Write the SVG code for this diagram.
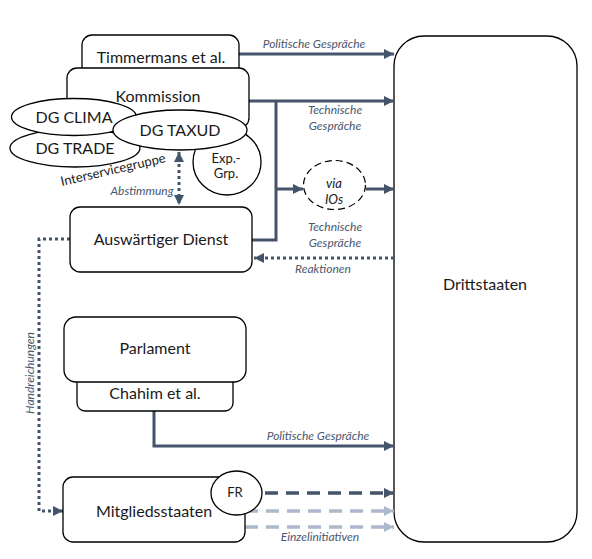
<svg xmlns="http://www.w3.org/2000/svg" width="592" height="559" viewBox="0 0 592 559">
<defs>
<style>
.box{fill:#fff;stroke:#000;stroke-width:1.3}
.t{font-family:Lato,Roboto,"Noto Sans",sans-serif;font-size:16px;fill:#1a1a1a;text-anchor:middle}
.s{font-family:Lato,Roboto,"Noto Sans",sans-serif;font-size:13px;fill:#1a1a1a;text-anchor:middle}
.lab{font-family:Lato,Roboto,"Noto Sans",sans-serif;font-size:12px;font-style:italic;fill:#4a5870;text-anchor:middle}
.c{fill:none;stroke:#44546a;stroke-width:3}
.dot{fill:none;stroke:#44546a;stroke-width:3;stroke-dasharray:3 3}
.dash{fill:none;stroke:#44546a;stroke-width:3.5;stroke-dasharray:13 8}
.ldash{fill:none;stroke:#adb8ca;stroke-width:3.5;stroke-dasharray:13 8}
</style>
<marker id="ah" markerUnits="userSpaceOnUse" markerWidth="12" markerHeight="10" refX="10" refY="5" orient="auto"><path d="M0,0 L10,5 L0,10 Z" fill="#44546a"/></marker>
<marker id="ahs" markerUnits="userSpaceOnUse" markerWidth="12" markerHeight="10" refX="10" refY="5" orient="auto-start-reverse"><path d="M0,0 L10,5 L0,10 Z" fill="#44546a"/></marker>
<marker id="ahl" markerUnits="userSpaceOnUse" markerWidth="12" markerHeight="10" refX="10" refY="5" orient="auto"><path d="M0,0 L10,5 L0,10 Z" fill="#adb8ca"/></marker>
</defs>
<rect width="592" height="559" fill="#fff"/>

<g id="drittstaaten">
<rect class="box" x="394" y="36" width="183" height="506" rx="30"/>
<text class="t" x="485" y="290">Drittstaaten</text>
</g>

<g id="connectors">
<path class="c" d="M239,54 H394" marker-end="url(#ah)"/>
<path class="c" d="M249,101 H394" marker-end="url(#ah)"/>
<path class="c" d="M276,101 V240 H252"/>
<path class="c" d="M276,189 H303" marker-end="url(#ah)"/>
<path class="c" d="M366,189 H394" marker-end="url(#ah)"/>
<path class="dot" d="M394,258 H254" marker-end="url(#ah)"/>
<path class="dot" d="M179,152 V205" marker-start="url(#ahs)" marker-end="url(#ahs)"/>
<path class="dot" d="M70,239 H39 V511 H63" marker-end="url(#ah)"/>
<path class="c" d="M154,411 V446 H394" marker-end="url(#ah)"/>
<path class="dash" d="M265,493 H394" marker-end="url(#ah)"/>
<path class="ldash" d="M245,511 H394" marker-end="url(#ahl)"/>
<path class="ldash" d="M245,527 H394" marker-end="url(#ahl)"/>
<text class="lab" x="314" y="48">Politische Gespräche</text>
<text class="lab" x="335" y="114">Technische</text>
<text class="lab" x="335" y="130">Gespräche</text>
<text class="lab" x="335" y="231">Technische</text>
<text class="lab" x="335" y="247">Gespräche</text>
<text class="lab" x="323" y="273">Reaktionen</text>
<text class="lab" x="142" y="195">Abstimmung</text>
<text class="lab" x="318" y="440">Politische Gespräche</text>
<text class="lab" x="320" y="541">Einzelinitiativen</text>
<text class="lab" transform="translate(34,373) rotate(-90)">Handreichungen</text>
</g>

<g id="timmermans">
<rect class="box" x="82" y="35" width="157" height="50" rx="10"/>
<text class="t" x="161" y="63">Timmermans et al.</text>
</g>

<g id="kommission">
<rect class="box" x="67" y="68" width="182" height="60" rx="10"/>
<g id="expgrp">
<ellipse class="box" cx="227" cy="162" rx="34" ry="33"/>
<text class="s" x="226" y="163">Exp.-</text>
<text class="s" x="226" y="178">Grp.</text>
</g>
<g id="dg-trade">
<ellipse class="box" cx="75" cy="148" rx="65" ry="19"/>
<text class="t" x="75" y="154">DG TRADE</text>
</g>
<g id="dg-clima">
<ellipse class="box" cx="74" cy="117" rx="62.5" ry="18.5"/>
<text class="t" x="74" y="123">DG CLIMA</text>
</g>
<g id="dg-taxud">
<ellipse class="box" cx="180" cy="130" rx="67" ry="20"/>
<text class="t" x="180" y="136">DG TAXUD</text>
</g>
<text class="t" x="158" y="102">Kommission</text>
<text class="s" transform="translate(114,174) rotate(-13)">Interservicegruppe</text>
</g>

<g id="via-ios">
<ellipse cx="334.5" cy="185" rx="31" ry="24.5" fill="#fff" stroke="#000" stroke-width="1.2" stroke-dasharray="7 4"/>
<text class="s" x="334" y="188" font-style="italic">via</text>
<text class="s" x="334" y="204" font-style="italic">IOs</text>
</g>

<g id="auswaertiger-dienst">
<rect class="box" x="70" y="207" width="182" height="65" rx="10"/>
<text class="t" x="161" y="245">Auswärtiger Dienst</text>
</g>

<g id="parlament">
<rect class="box" x="77" y="370" width="156" height="41" rx="8"/>
<text class="t" x="155" y="399">Chahim et al.</text>
<rect class="box" x="64" y="317" width="182" height="65" rx="12"/>
<text class="t" x="155" y="354">Parlament</text>
</g>

<g id="mitgliedsstaaten">
<rect class="box" x="63" y="477" width="182" height="65" rx="10"/>
<text class="t" x="154" y="517">Mitgliedsstaaten</text>
<ellipse class="box" cx="236.5" cy="493" rx="25.5" ry="22"/>
<text class="s" x="235" y="497">FR</text>
</g>
</svg>
